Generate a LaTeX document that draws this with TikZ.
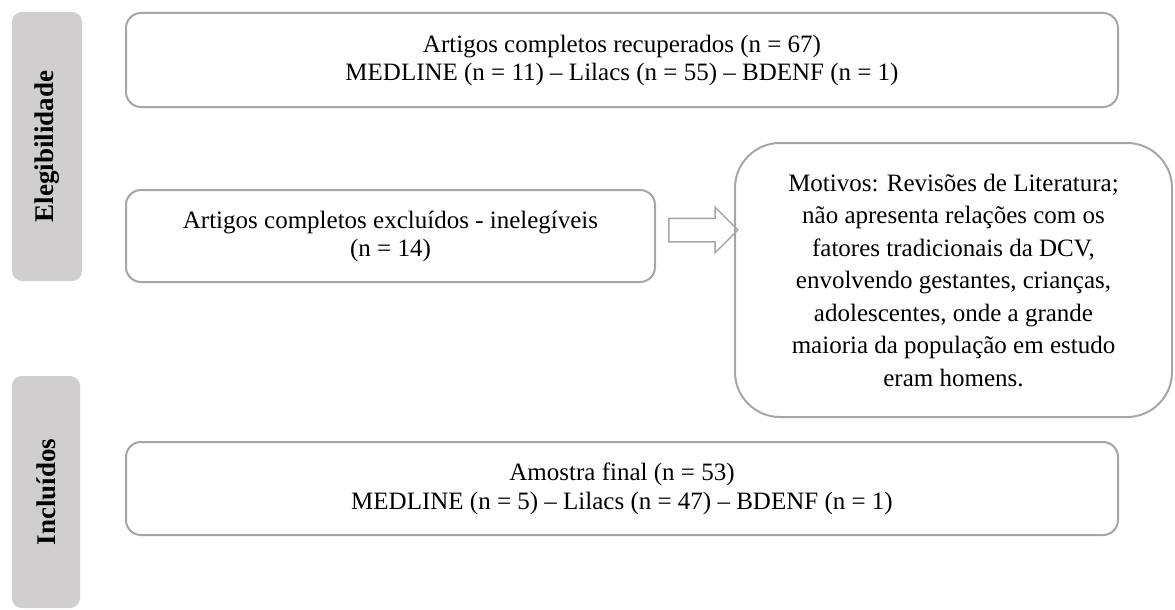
\documentclass[tikz,border=0pt]{standalone}
\usepackage{fontspec}
\setmainfont{Liberation Serif}
\usetikzlibrary{shapes.arrows}
\definecolor{edgegray}{HTML}{A6A6A6}
\definecolor{barfill}{HTML}{D0CECE}
\tikzset{
  box/.style={draw=edgegray, line width=2pt, rounded corners=15pt, align=center, inner sep=0pt, font=\fontsize{25}{28}\selectfont},
  bar/.style={fill=barfill, rounded corners=10pt, inner sep=0pt},
  barlabel/.style={rotate=90, inner sep=0pt, font=\fontsize{27}{30}\selectfont\bfseries},
  hollowarrow/.style={single arrow, draw=edgegray, line width=1.5pt, minimum height=69pt, inner xsep=0pt, inner ysep=11pt, single arrow head extend=11pt},
}
\begin{document}
\begin{tikzpicture}[x=1pt,y=1pt]
\useasboundingbox (0,0) rectangle (1175,-610);
% side bars
\node[bar, minimum width=70pt, minimum height=269pt] (elegbar) at (47,-146.5) {};
\node[barlabel] (eleglabel) at (elegbar.center) {Elegibilidade};
\node[bar, minimum width=68pt, minimum height=232pt] (inclbar) at (46,-492) {};
\node[barlabel] (incllabel) at (inclbar.center) {Incluídos};
% boxes
\node[box, minimum width=992pt, minimum height=94pt] (recup) at (622,-60)
  {Artigos completos recuperados (n = 67)\\MEDLINE (n = 11) – Lilacs (n = 55) – BDENF (n = 1)};
\node[box, minimum width=529pt, minimum height=92pt] (excl) at (390.5,-236)
  {Artigos completos excluídos - inelegíveis\\(n = 14)};
\node[box, rounded corners=45pt, minimum width=437pt, minimum height=274pt, font=\fontsize{25}{32.5}\selectfont] (motivos) at (953.5,-280)
  {Motivos: Revisões de Literatura;\\não apresenta relações com os\\fatores tradicionais da DCV,\\envolvendo gestantes, crianças,\\adolescentes, onde a grande\\maioria da população em estudo\\eram homens.};
\node[box, minimum width=992pt, minimum height=93pt, font=\fontsize{25}{29}\selectfont] (final) at (622,-488.5)
  {Amostra final (n = 53)\\MEDLINE (n = 5) – Lilacs (n = 47) – BDENF (n = 1)};
% arrow
\node[hollowarrow] (arrow) at (697.5,-230) {};
\end{tikzpicture}
\end{document}
